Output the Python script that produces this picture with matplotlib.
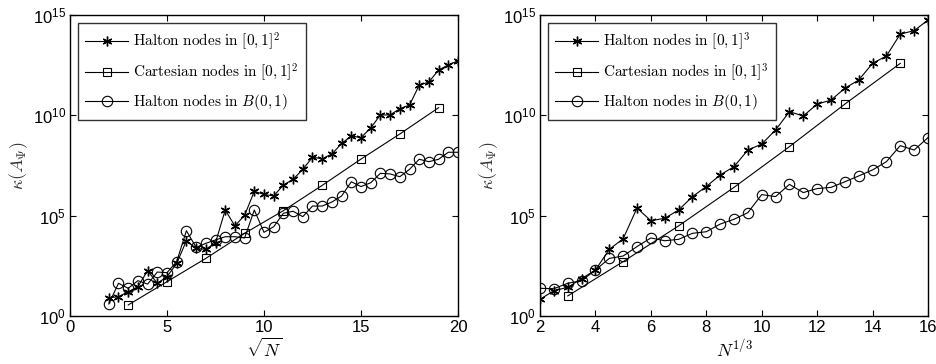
import numpy as np
import matplotlib
matplotlib.use("Agg")
import matplotlib.pyplot as plt
from matplotlib.ticker import FixedLocator

plt.rcParams['font.family'] = ['Liberation Sans', 'DejaVu Sans']
plt.rcParams['mathtext.fontset'] = 'cm'
# sans math font used only for the tick labels (set per text below)
plt.rcParams['mathtext.rm'] = 'Liberation Sans'
plt.rcParams['mathtext.it'] = 'Liberation Sans:italic'
plt.rcParams['mathtext.sf'] = 'Liberation Sans'

# ---- data (log10 of condition numbers) ----
x2_halton = np.arange(2, 20.01, 0.5)
logk2_halton = [0.91, 0.96, 1.21, 1.46, 2.26, 1.63, 1.96, 2.62, 3.75, 3.37,
                3.32, 3.65, 5.28, 4.49, 5.02, 6.21, 6.06, 5.98, 6.53, 6.81,
                7.31, 7.91, 7.84, 8.07, 8.60, 8.97, 8.89, 9.37, 10.02, 10.02,
                10.33, 10.51, 11.50, 11.66, 12.26, 12.51, 12.72]
x2_cart = [3, 5, 7, 9, 11, 13, 15, 17, 19]
logk2_cart = [0.55, 1.71, 2.87, 4.12, 5.25, 6.51, 7.82, 9.07, 10.38]
x2_ball = np.arange(2, 20.01, 0.5)
logk2_ball = [0.60, 1.63, 1.38, 1.76, 1.59, 2.19, 2.16, 2.71, 4.25, 3.42,
              3.62, 3.79, 3.95, 3.95, 3.89, 5.28, 4.17, 4.45, 5.12, 5.22,
              4.95, 5.48, 5.48, 5.68, 5.98, 6.69, 6.45, 6.64, 7.11, 7.08,
              6.94, 7.31, 7.81, 7.69, 7.81, 8.16, 8.16]

x3_halton = np.arange(2, 16.01, 0.5)
logk3_halton = [0.83, 1.26, 1.43, 1.86, 2.29, 3.32, 3.85, 5.38, 4.75, 4.87,
                5.28, 5.95, 6.45, 7.03, 7.44, 8.27, 8.57, 9.27, 10.18, 9.97,
                10.56, 10.76, 11.35, 11.76, 12.59, 12.96, 14.05, 14.22, 14.75]
x3_cart = [3, 5, 7, 9, 11, 13, 15]
logk3_cart = [1.00, 2.71, 4.49, 6.41, 8.44, 10.56, 12.59]
x3_ball = np.arange(2, 16.01, 0.5)
logk3_ball = [1.38, 1.36, 1.63, 1.76, 2.29, 2.87, 2.99, 3.46, 3.89, 3.75,
              3.82, 4.12, 4.20, 4.58, 4.82, 5.15, 6.05, 5.95, 6.56, 6.15,
              6.35, 6.41, 6.69, 6.98, 7.28, 7.69, 8.49, 8.27, 8.89]

labels2 = [r"$\mathrm{Halton\ nodes\ in\ }[0,1]^2$",
           r"$\mathrm{Cartesian\ nodes\ in\ }[0,1]^2$",
           r"$\mathrm{Halton\ nodes\ in\ }B(0,1)$"]
labels3 = [r"$\mathrm{Halton\ nodes\ in\ }[0,1]^3$",
           r"$\mathrm{Cartesian\ nodes\ in\ }[0,1]^3$",
           r"$\mathrm{Halton\ nodes\ in\ }B(0,1)$"]
ydecades = [0, 5, 10, 15]

star = (6, 2, 0)

fig = plt.figure(figsize=(9.37, 3.64), dpi=100)
ax1 = fig.add_axes([70/937, 48/364, 388/937, 301/364])
ax2 = fig.add_axes([540/937, 48/364, 388/937, 301/364])


def draw(ax, series, labels, xlim, xticks, xlabel):
    styles = [dict(marker=star, markersize=7, markeredgewidth=1.0),
              dict(marker='s', markersize=6, markerfacecolor='none', markeredgewidth=0.8),
              dict(marker='o', markersize=7.5, markerfacecolor='none', markeredgewidth=0.8)]
    for (xs, ly), lab, st in zip(series, labels, styles):
        ax.semilogy(xs, 10 ** np.asarray(ly), color='black', lw=0.8, label=lab, **st)
    ax.set_xlim(*xlim)
    ax.set_ylim(1, 1e15)
    ax.set_xticks(xticks)
    ax.yaxis.set_major_locator(FixedLocator([10.0 ** d for d in ydecades]))
    ax.yaxis.set_minor_locator(FixedLocator([]))
    ax.set_yticklabels([r"$10^{%d}$" % d for d in ydecades],
                       math_fontfamily='custom')
    ax.tick_params(direction='in', top=True, right=True, labelsize=12,
                   length=4, width=0.8, pad=3)
    for s in ax.spines.values():
        s.set_linewidth(1.0)
    ax.set_xlabel(xlabel, fontsize=13, labelpad=2)
    ax.set_ylabel(r"$\kappa(A_\Psi)$", fontsize=13, labelpad=2, color='#333333')
    leg = ax.legend(loc='upper left', fontsize=11, frameon=True, fancybox=False,
                    edgecolor='black', handlelength=2.8, borderpad=0.5,
                    labelspacing=0.6, handletextpad=0.3, borderaxespad=0.5)
    leg.get_frame().set_linewidth(1.0)


draw(ax1, [(x2_halton, logk2_halton), (x2_cart, logk2_cart), (x2_ball, logk2_ball)],
     labels2, (0, 20), [0, 5, 10, 15, 20], r"$\sqrt{N}$")
draw(ax2, [(x3_halton, logk3_halton), (x3_cart, logk3_cart), (x3_ball, logk3_ball)],
     labels3, (2, 16), [2, 4, 6, 8, 10, 12, 14, 16], r"$N^{1/3}$")

fig.savefig("out.png", dpi=100)
